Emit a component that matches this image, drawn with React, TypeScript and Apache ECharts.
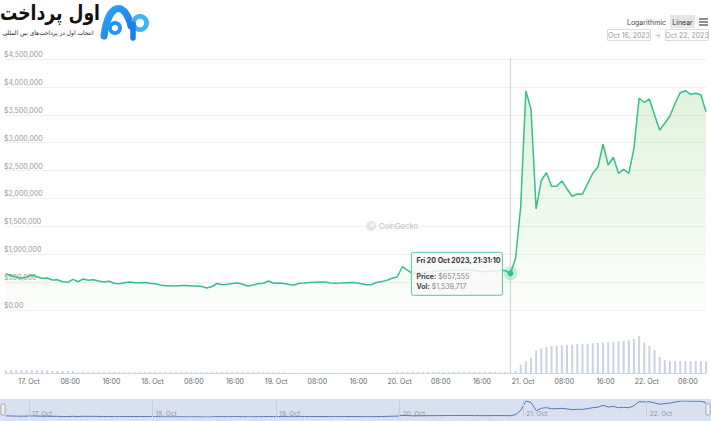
import React, { useEffect, useRef } from "react";
import * as echarts from "echarts";

const W = 711;
const H = 421;
const FONT = "Inter, 'Noto Sans', sans-serif";

// hourly series, first point (UTC)
const SERIES_START = "2023-10-16 19:31:10";
const HOUR_MS = 3600 * 1000;

const PRICE = [
  645000, 619000, 592000, 568000, 592000, 628000, 597000, 568000, 574000, 538000,
  543000, 507000, 497000, 550000, 507000, 556000, 532000, 543000, 520000, 502000,
  515000, 479000, 472000, 488000, 502000, 490000, 490000, 491000, 479000, 470000,
  448000, 434000, 436000, 430000, 439000, 439000, 430000, 430000, 421000, 394000,
  421000, 475000, 454000, 463000, 475000, 484000, 461000, 430000, 448000, 472000,
  479000, 520000, 479000, 484000, 475000, 457000, 448000, 479000, 484000, 493000,
  498000, 502000, 502000, 484000, 481000, 484000, 490000, 495000, 488000, 472000,
  454000, 454000, 493000, 509000, 532000, 570000, 592000, 776000, 717000, 654000,
  663000, 672000, 681000, 690000, 699000, 708000, 714000, 717000, 717000, 717000,
  717000, 708000, 694000, 687000, 696000, 705000, 708000, 708000, 657555, 927000,
  1852000, 3927000, 3599000, 1811000, 2322000, 2462000, 2218000, 2218000, 2313000, 2170000,
  2039000, 2080000, 2076000, 2265000, 2451000, 2564000, 2971000, 2600000, 2738000, 2451000,
  2523000, 2451000, 2899000, 3796000, 3724000, 3783000, 3496000, 3227000, 3348000, 3478000,
  3706000, 3896000, 3932000, 3867000, 3885000, 3860000, 3555000,
];

const VOLUME = [
  4900000, 5000000, 4800000, 4900000, 5000000, 4900000, 4800000, 4900000, 4700000, 3600000,
  3700000, 3500000, 3600000, 3400000, 1500000, 1600000, 1500000, 1400000, 1500000, 1500000,
  1400000, 1500000, 1600000, 1500000, 1400000, 1500000, 1500000, 1400000, 1500000, 1500000,
  1400000, 1500000, 1500000, 1400000, 1500000, 1500000, 1600000, 1500000, 1400000, 1500000,
  1500000, 1400000, 1500000, 1500000, 1400000, 1500000, 1500000, 1400000, 1500000, 1500000,
  1400000, 1500000, 1500000, 1400000, 1300000, 600000, 600000, 500000, 600000, 600000,
  500000, 600000, 600000, 500000, 600000, 600000, 500000, 600000, 600000, 500000,
  600000, 600000, 500000, 600000, 600000, 700000, 1800000, 1800000, 1900000, 1800000,
  1800000, 1700000, 1800000, 1800000, 1900000, 1800000, 1800000, 1700000, 1800000, 1800000,
  1800000, 1700000, 1800000, 1800000, 1700000, 1800000, 1700000, 1700000, 1539717, 3600000,
  15000000, 21000000, 27000000, 40000000, 44000000, 47000000, 48500000, 49000000, 49600000, 50200000,
  50900000, 51500000, 52000000, 52700000, 53300000, 54000000, 54500000, 55300000, 56000000, 56900000,
  57800000, 58700000, 60900000, 66700000, 54500000, 49000000, 41300000, 29000000, 23000000, 21300000,
  21300000, 21300000, 21300000, 21300000, 21300000, 21300000, 21300000,
];

const HIGHLIGHT_INDEX = 98;

const Y_MAX = 4500000;
const Y_STEP = 500000;
const VOL_MAX = 70000000;

const X_TICK_START = "2023-10-17 00:00:00";
const X_TICK_STEP_H = 8;
const X_TICK_LABELS = [
  "17. Oct", "08:00", "16:00", "18. Oct", "08:00", "16:00", "19. Oct", "08:00", "16:00",
  "20. Oct", "08:00", "16:00", "21. Oct", "08:00", "16:00", "22. Oct", "08:00",
];
const NAV_LABELS = ["17. Oct", "18. Oct", "19. Oct", "20. Oct", "21. Oct", "22. Oct"];

const DATE_FROM = "Oct 16, 2023";
const DATE_TO = "Oct 22, 2023";
const BRAND = "اول پرداخت";
const BRAND_SUB = "انتخاب اول در پرداخت‌های بین المللی";

const DAYS = ["Sun", "Mon", "Tue", "Wed", "Thu", "Fri", "Sat"];
const MONTHS = ["Jan", "Feb", "Mar", "Apr", "May", "Jun", "Jul", "Aug", "Sep", "Oct", "Nov", "Dec"];

function parseUTC(s: string): number {
  const [d, t] = s.split(" ");
  const [y, m, dd] = d.split("-").map(Number);
  const [hh, mm, ss] = t.split(":").map(Number);
  return Date.UTC(y, m - 1, dd, hh, mm, ss);
}
const pad = (n: number) => (n < 10 ? "0" + n : "" + n);
const money = (v: number) => "$" + Math.round(v).toLocaleString("en-US");

export default function App() {
  const ref = useRef<HTMLDivElement>(null);

  useEffect(() => {
    document.body.style.margin = "0";
    if (!ref.current) return;
    const chart = echarts.init(ref.current, null, { renderer: "svg" });

    const t0 = parseUTC(SERIES_START);
    const times = PRICE.map((_, i) => t0 + i * HOUR_MS);
    const tMin = times[0];
    const tMax = times[times.length - 1];
    const tickStart = parseUTC(X_TICK_START);
    const tickVals = X_TICK_LABELS.map((_, k) => tickStart + k * X_TICK_STEP_H * HOUR_MS);
    const navVals = NAV_LABELS.map((_, k) => tickStart + k * 24 * HOUR_MS);
    const priceData = times.map((t, i) => [t, PRICE[i]]);
    const volData = times.map((t, i) => [t, VOLUME[i]]);
    const hT = times[HIGHLIGHT_INDEX];
    const hP = PRICE[HIGHLIGHT_INDEX];
    const hV = VOLUME[HIGHLIGHT_INDEX];

    const lineColor = "#34bf8c";

    chart.setOption({
      animation: false,
      textStyle: { fontFamily: FONT },
      grid: [
        { left: 6, right: 5, top: 59, height: 251 },
        { left: 6, right: 5, top: 334, height: 39 },
        { left: 6, right: 5, top: 401, height: 16 },
      ],
      xAxis: [
        { gridIndex: 0, type: "value", min: tMin, max: tMax, show: false },
        {
          gridIndex: 1, type: "value", min: tMin, max: tMax,
          axisLine: { show: true, lineStyle: { color: "#ccd6eb" } },
          axisTick: { show: false },
          splitLine: { show: false },
          axisLabel: {
            customValues: tickVals,
            formatter: (v: number) => {
              const k = Math.round((v - tickStart) / (X_TICK_STEP_H * HOUR_MS));
              return X_TICK_LABELS[k] ?? "";
            },
            color: "#666", fontSize: 7, margin: 5, fontFamily: FONT,
          },
        },
        {
          gridIndex: 2, type: "value", min: tMin, max: tMax,
          axisLine: { show: false }, axisTick: { show: false }, splitLine: { show: false },
          axisLabel: {
            customValues: navVals,
            formatter: (v: number) => {
              const k = Math.round((v - tickStart) / (24 * HOUR_MS));
              return NAV_LABELS[k] ?? "";
            },
            inside: true, align: "left", color: "#8f96a8", fontSize: 6.5, margin: 0,
            padding: [0, 0, 0, 3], fontFamily: FONT,
          },
        },
      ],
      yAxis: [
        {
          gridIndex: 0, type: "value", min: 0, max: Y_MAX, interval: Y_STEP,
          axisLine: { show: false }, axisTick: { show: false },
          splitLine: { lineStyle: { color: "#f0f0f0" } },
          axisLabel: {
            inside: true, margin: -2, verticalAlign: "bottom", color: "#999", fontSize: 7,
            padding: [0, 0, 1, 0], fontFamily: FONT,
            formatter: (v: number) => (v === 0 ? "$0.00" : money(v)),
          },
        },
        { gridIndex: 1, type: "value", min: 0, max: VOL_MAX, show: false },
        { gridIndex: 2, type: "value", min: "dataMin", max: "dataMax", show: false },
      ],
      series: [
        {
          type: "line", xAxisIndex: 0, yAxisIndex: 0, data: priceData,
          showSymbol: false, silent: true,
          lineStyle: { color: lineColor, width: 1.5 },
          areaStyle: {
            color: new echarts.graphic.LinearGradient(0, 0, 0, 1, [
              { offset: 0, color: "rgba(120,200,100,0.32)" },
              { offset: 1, color: "rgba(120,200,100,0.04)" },
            ]),
          },
          markPoint: {
            silent: true,
            label: { show: false },
            data: [
              { coord: [hT, hP], symbol: "circle", symbolSize: 14, itemStyle: { color: "rgba(52,191,140,0.25)" } },
              { coord: [hT, hP], symbol: "circle", symbolSize: 6, itemStyle: { color: lineColor } },
            ],
          },
        },
        {
          type: "bar", xAxisIndex: 1, yAxisIndex: 1, data: volData,
          barWidth: 2, silent: true, itemStyle: { color: "#c9d3e4" },
        },
        {
          type: "line", xAxisIndex: 2, yAxisIndex: 2, data: priceData,
          showSymbol: false, silent: true,
          lineStyle: { color: "#5577bd", width: 1 },
          markLine: {
            silent: true, symbol: "none", label: { show: false },
            lineStyle: { color: "#c4cde0", width: 1, type: "solid" },
            data: navVals.map((v) => ({ xAxis: v })),
          },
        },
      ],
    });

    const [px, py] = chart.convertToPixel({ gridIndex: 0 }, [hT, hP]) as number[];
    const d = new Date(hT);
    const title = `${DAYS[d.getUTCDay()]} ${d.getUTCDate()} ${MONTHS[d.getUTCMonth()]} ${d.getUTCFullYear()}, ${pad(d.getUTCHours())}:${pad(d.getUTCMinutes())}:${pad(d.getUTCSeconds())}`;
    const top0 = (chart.convertToPixel({ gridIndex: 0 }, [hT, Y_MAX]) as number[])[1];
    const bot1 = (chart.convertToPixel({ gridIndex: 1 }, [hT, 0]) as number[])[1];

    const blue = new echarts.graphic.LinearGradient(0, 0, 1, 1, [
      { offset: 0, color: "#2aa7f5" },
      { offset: 1, color: "#1a74e0" },
    ]);
    const small = { fontFamily: FONT, fontSize: 7 };

    chart.setOption({
      graphic: [
        // navigator mask
        { type: "rect", z: 0, shape: { x: 0, y: 399, width: W, height: 22 }, style: { fill: "rgba(102,133,194,0.25)" } },
        { type: "rect", z: 10, shape: { x: 1, y: 404, width: 4, height: 11, r: 1 }, style: { fill: "#f2f2f2", stroke: "#999", lineWidth: 0.8 } },
        { type: "rect", z: 10, shape: { x: 706, y: 404, width: 4, height: 11, r: 1 }, style: { fill: "#f2f2f2", stroke: "#999", lineWidth: 0.8 } },
        // crosshair
        { type: "line", z: 1, shape: { x1: px, y1: top0 - 1, x2: px, y2: bot1 }, style: { stroke: "#d0d0d0", lineWidth: 1 } },
        // watermark
        { type: "circle", z: 1, shape: { cx: 371, cy: 226, r: 5 }, style: { fill: "#e4e4e4" } },
        { type: "circle", z: 1, shape: { cx: 372, cy: 225, r: 2 }, style: { fill: "#f6f6f6" } },
        { type: "text", z: 1, x: 379, y: 226, style: { text: "CoinGecko", ...small, fontSize: 7.5, fill: "#bbbbbb", verticalAlign: "middle" } },
        // tooltip
        {
          type: "group", z: 100, children: [
            { type: "rect", z: 100, shape: { x: px - 99, y: py - 21, width: 91, height: 43, r: 2 }, style: { fill: "rgba(248,248,248,0.85)", stroke: "#56c69c", lineWidth: 1 } },
            { type: "text", z: 101, x: px - 94, y: py - 13, style: { text: title, ...small, fontWeight: "bold", fill: "#333", verticalAlign: "middle" } },
            {
              type: "text", z: 101, x: px - 94, y: py + 3,
              style: {
                text: `{b|Price:} {v|${money(hP)}}`, verticalAlign: "middle", ...small,
                rich: { b: { ...small, fontWeight: "bold", fill: "#444" }, v: { ...small, fill: "#888" } },
              },
            },
            {
              type: "text", z: 101, x: px - 94, y: py + 13,
              style: {
                text: `{b|Vol:} {v|${money(hV)}}`, verticalAlign: "middle", ...small,
                rich: { b: { ...small, fontWeight: "bold", fill: "#444" }, v: { ...small, fill: "#888" } },
              },
            },
          ],
        },
        // top-right controls
        { type: "text", x: 666, y: 22, style: { text: "Logarithmic", ...small, fill: "#444", align: "right", verticalAlign: "middle" } },
        { type: "rect", shape: { x: 670, y: 15, width: 25, height: 13 }, style: { fill: "#e6e6e6" } },
        { type: "text", x: 682.5, y: 22, style: { text: "Linear", ...small, fill: "#333", align: "center", verticalAlign: "middle" } },
        { type: "line", shape: { x1: 699, y1: 19, x2: 708, y2: 19 }, style: { stroke: "#555", lineWidth: 1.3 } },
        { type: "line", shape: { x1: 699, y1: 22, x2: 708, y2: 22 }, style: { stroke: "#555", lineWidth: 1.3 } },
        { type: "line", shape: { x1: 699, y1: 25, x2: 708, y2: 25 }, style: { stroke: "#555", lineWidth: 1.3 } },
        { type: "rect", shape: { x: 607.5, y: 29.5, width: 43, height: 11 }, style: { fill: "#fff", stroke: "#dddddd", lineWidth: 1 } },
        { type: "text", x: 629, y: 35, style: { text: DATE_FROM, ...small, fill: "#999", align: "center", verticalAlign: "middle" } },
        { type: "text", x: 657.5, y: 35, style: { text: "→", ...small, fill: "#aaa", align: "center", verticalAlign: "middle" } },
        { type: "rect", shape: { x: 665.5, y: 29.5, width: 43, height: 11 }, style: { fill: "#fff", stroke: "#dddddd", lineWidth: 1 } },
        { type: "text", x: 687, y: 35, style: { text: DATE_TO, ...small, fill: "#999", align: "center", verticalAlign: "middle" } },
        // brand logo
        { type: "text", x: 50, y: 13, scaleX: 0.82, style: { text: BRAND, fontFamily: "'DejaVu Sans', sans-serif", fontWeight: "bold", fontSize: 21, fill: "#111", align: "center", verticalAlign: "middle" } },
        { type: "text", x: 48, y: 32.5, scaleX: 0.95, style: { text: BRAND_SUB, fontFamily: "'DejaVu Sans', sans-serif", fontSize: 6.2, fill: "#222", align: "center", verticalAlign: "middle" } },
        { type: "bezierCurve", shape: { x1: 104, y1: 36, cpx1: 108, cpy1: 4, cpx2: 124, cpy2: -1, x2: 131, y2: 26 }, style: { stroke: blue, lineWidth: 7, lineCap: "round", fill: "none" } },
        { type: "ring", shape: { cx: 115, cy: 28, r: 7, r0: 3.2 }, style: { fill: "#2196f3" } },
        { type: "ring", shape: { cx: 140, cy: 23, r: 9, r0: 4.2 }, style: { fill: "#3fb4f7" } },
        { type: "line", shape: { x1: 133, y1: 24, x2: 133, y2: 38 }, style: { stroke: "#1a7fe8", lineWidth: 5.5, lineCap: "round" } },
      ],
    });

    return () => chart.dispose();
  }, []);

  return <div ref={ref} style={{ width: W, height: H }} />;
}
